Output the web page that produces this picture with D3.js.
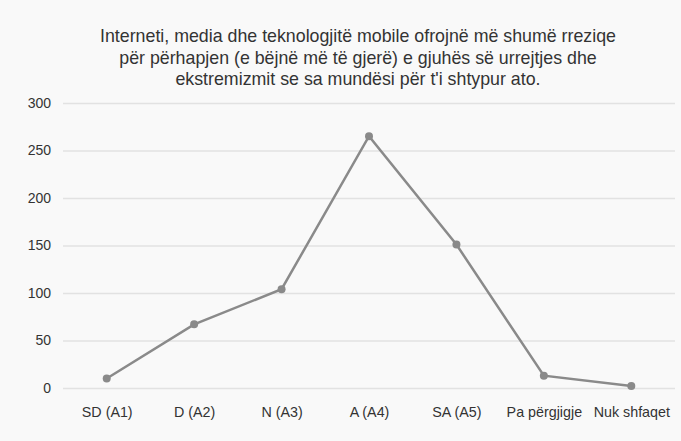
<!DOCTYPE html>
<html>
<head>
<meta charset="utf-8">
<script src="https://cdn.jsdelivr.net/npm/d3@7"></script>
<style>
  body { margin: 0; background: #f9f9f9; }
  svg { display: block; font-family: "Liberation Sans", Arial, sans-serif; }
</style>
</head>
<body>
<div class="chart"></div>
<script>
var width = 681, height = 441;

var titleLines = [
  "Interneti, media dhe teknologjitë mobile ofrojnë më shumë rreziqe",
  "për përhapjen (e bëjnë më të gjerë) e gjuhës së urrejtjes dhe",
  "ekstremizmit se sa mundësi për t'i shtypur ato."
];
var categories = ["SD (A1)", "D (A2)", "N (A3)", "A (A4)", "SA (A5)", "Pa përgjigje", "Nuk shfaqet"];
var values = [10, 67, 104, 265, 151, 13, 2];
var yTicks = [0, 50, 100, 150, 200, 250, 300];

var margin = {top: 103, right: 6, bottom: 53, left: 63};

var svg = d3.select(".chart")
    .append("svg")
    .attr("width", width)
    .attr("height", height);

svg.append("rect").attr("width", width).attr("height", height).attr("fill", "#f9f9f9");

var x = d3.scalePoint()
    .domain(categories)
    .range([margin.left, width - margin.right])
    .padding(0.5);

var y = d3.scaleLinear()
    .domain([0, 300])
    .range([height - margin.bottom, margin.top]);

// title
svg.append("g").selectAll("text")
    .data(titleLines)
    .enter().append("text")
      .attr("x", 358)
      .attr("y", function(d, i) { return 42 + i * 21.5; })
      .attr("text-anchor", "middle")
      .attr("font-size", 17.8)
      .attr("fill", "#333")
      .text(function(d) { return d; });

// gridlines + y labels
var yAxis = svg.append("g")
    .attr("transform", "translate(" + margin.left + ",0)")
    .call(d3.axisLeft(y).tickValues(yTicks).tickSize(-(width - margin.left - margin.right)).tickPadding(12));
yAxis.select(".domain").remove();
yAxis.selectAll(".tick line").attr("stroke", "#e2e2e2").attr("stroke-width", 1.5);
yAxis.selectAll(".tick text").attr("font-size", 14).attr("fill", "#333").attr("font-family", "Liberation Sans, Arial, sans-serif");

// x labels
var xAxis = svg.append("g")
    .attr("transform", "translate(0," + (height - margin.bottom) + ")")
    .call(d3.axisBottom(x).tickSize(0).tickPadding(19));
xAxis.select(".domain").remove();
xAxis.selectAll(".tick text").attr("font-size", 14.3).attr("fill", "#333").attr("font-family", "Liberation Sans, Arial, sans-serif");

var line = d3.line()
    .x(function(d, i) { return x(categories[i]); })
    .y(function(d) { return y(d); });

svg.append("path")
    .datum(values)
    .attr("fill", "none")
    .attr("stroke", "#8a8a8a")
    .attr("stroke-width", 2.5)
    .attr("d", line);

svg.append("g").selectAll("circle")
    .data(values)
    .enter().append("circle")
      .attr("cx", function(d, i) { return x(categories[i]); })
      .attr("cy", function(d) { return y(d); })
      .attr("r", 4)
      .attr("fill", "#8a8a8a");
</script>
</body>
</html>
